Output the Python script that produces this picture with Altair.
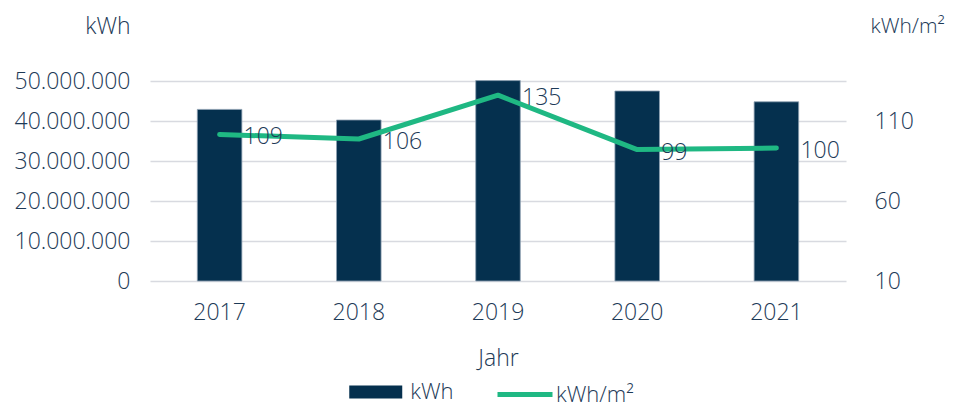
import altair as alt
import pandas as pd

# ---- data ----
years = ["2017", "2018", "2019", "2020", "2021"]
kwh = [42900000, 40250000, 50100000, 47500000, 44800000]
kwh_m2 = [109, 106, 135, 99, 100]
left_ticks = [0, 10000000, 20000000, 30000000, 40000000, 50000000]
right_ticks = [10, 60, 110]
series = ["kWh", "kWh/m²"]

df = pd.DataFrame({
    "Jahr": years,
    "kWh": kwh,
    "kWh_m2": kwh_m2,
    "s_bar": [series[0]] * len(years),
    "s_line": [series[1]] * len(years),
})
right_df = pd.DataFrame({"v": right_ticks})

FONT = "Open Sans"
TXT = "#1d3a57"
NAVY = "#05304e"
GREEN = "#1fb883"
GRID = "#d8dae0"
FS = 23
FW = 300

x_enc = alt.X(
    "Jahr:N",
    sort=years,
    scale=alt.Scale(paddingInner=0.68, paddingOuter=0.34),
    axis=alt.Axis(
        title="Jahr", labelAngle=0, domain=False, ticks=False, tickSize=0,
        labelPadding=20, grid=False, titleY=66, titleBaseline="top",
    ),
)

bars = alt.Chart(df).mark_bar(stroke="#8d9fb1", strokeWidth=0.8).encode(
    x=x_enc,
    y=alt.Y(
        "kWh:Q",
        scale=alt.Scale(domain=[0, 50000000], nice=False),
        axis=alt.Axis(
            values=left_ticks, title="kWh", orient="left",
            labelExpr="replace(replace(format(datum.value, ','), ',', '.'), ',', '.')",
            domain=False, ticks=False, tickSize=0, labelPadding=20,
            grid=True, gridColor=GRID, gridWidth=1.6,
            titleAngle=0, titleX=-20, titleY=-55, titleAlign="right", titleBaseline="middle",
        ),
    ),
    fill=alt.Fill(
        "s_bar:N",
        scale=alt.Scale(domain=[series[0]], range=[NAVY]),
        legend=alt.Legend(
            title=None, orient="none", legendX=212.25, legendY=297.5,
            symbolType="M-2,-0.5H2V0.5H-2Z", symbolSize=702, symbolStrokeWidth=0,
            labelOffset=21,
        ),
    ),
)

line_scale = alt.Scale(domain=[12, 144.4], nice=False, zero=False)

line = alt.Chart(df).mark_line(strokeWidth=5, strokeCap="round", strokeJoin="round").encode(
    x=x_enc,
    y=alt.Y("kWh_m2:Q", scale=line_scale, axis=None),
    stroke=alt.Stroke(
        "s_line:N",
        scale=alt.Scale(domain=[series[1]], range=[GREEN]),
        legend=alt.Legend(
            title=None, orient="none", legendX=345, legendY=283.5,
            symbolType="stroke", symbolSize=3025, symbolStrokeWidth=5,
            labelOffset=1,
        ),
    ),
)

labels = alt.Chart(df).mark_text(
    align="left", baseline="middle", dx=24, dy=3, fontSize=FS, font=FONT,
    fontWeight=FW, color=TXT,
).encode(
    x=x_enc,
    y=alt.Y("kWh_m2:Q", scale=line_scale, axis=None),
    text=alt.Text("kWh_m2:Q"),
)

right_axis = alt.Chart(right_df).mark_point(opacity=0).encode(
    y=alt.Y(
        "v:Q",
        scale=alt.Scale(domain=[10, 135], nice=False, zero=False),
        axis=alt.Axis(
            orient="right", values=right_ticks, title="kWh/m²",
            domain=False, ticks=False, tickSize=0, labelPadding=28, grid=False,
            titleAngle=0, titleX=24, titleY=-55, titleAlign="left", titleBaseline="middle",
            titleFontSize=21,
        ),
    ),
)

chart = alt.layer(bars, line, labels, right_axis).resolve_scale(
    y="independent"
).properties(
    width=696,
    height=200,
    autosize=alt.AutoSizeParams(type="none"),
    padding={"left": 142, "top": 73, "right": 103, "bottom": 125},
).configure(
    font=FONT,
).configure_view(
    stroke=None,
).configure_axis(
    labelFont=FONT, titleFont=FONT, labelFontSize=FS, titleFontSize=FS,
    labelColor=TXT, titleColor=TXT, titleFontWeight=FW, labelFontWeight=FW,
).configure_legend(
    labelFont=FONT, labelFontSize=22, labelColor=TXT, labelFontWeight=FW, padding=0,
)

chart.save("out.html", embed_options={"renderer": "svg", "actions": False})
